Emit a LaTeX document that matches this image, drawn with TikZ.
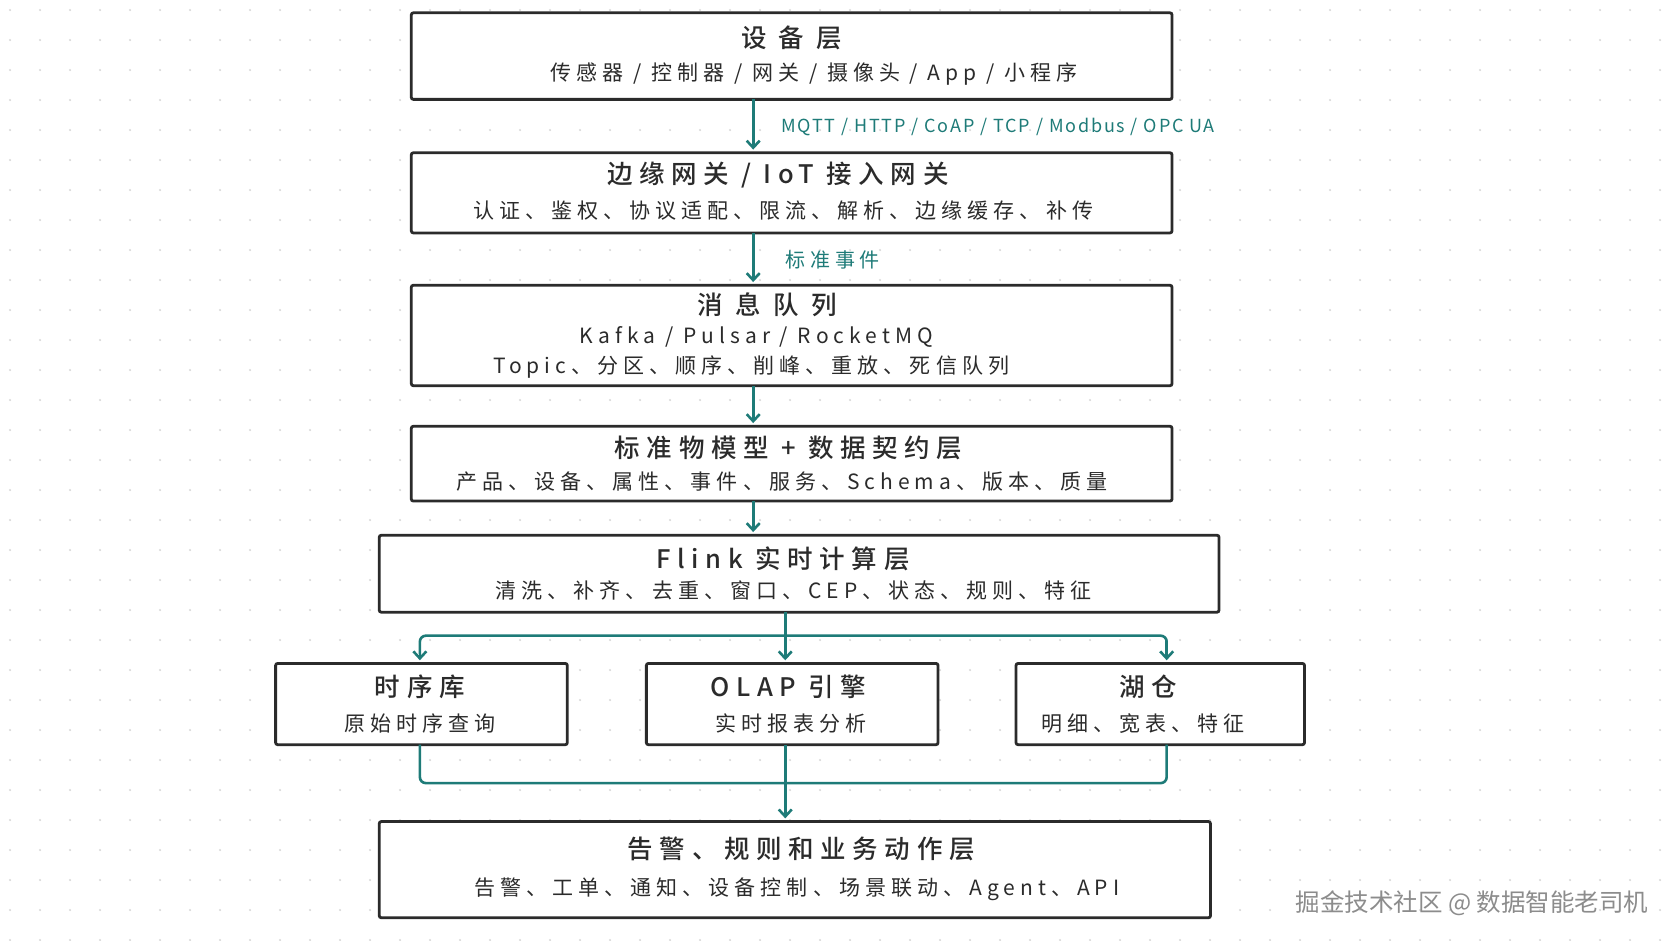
\documentclass[tikz,border=0pt]{standalone}
\usepackage{fontspec}
\setmainfont{Noto Sans CJK SC}
\newfontfamily\ttlfont[LetterSpace=26]{Noto Sans CJK SC Medium}
\newfontfamily\subfont[LetterSpace=24]{Noto Sans CJK SC}
\newfontfamily\lblfont[LetterSpace=10]{Noto Sans CJK SC}
\usetikzlibrary{arrows.meta}
\definecolor{teal1}{HTML}{1E7B78}
\definecolor{bd}{HTML}{2B2B2B}
\begin{document}
\begin{tikzpicture}[x=1.0684pt,y=-1.0684pt,
  box/.style={draw=bd,line width=2.8pt,rounded corners=2pt,fill=white},
  ttl/.style={font=\fontsize{25.5}{28}\ttlfont,text=bd},
  sub/.style={font=\fontsize{21}{22}\subfont,text=bd},
  lbl/.style={font=\fontsize{18}{20}\lblfont,text=teal1,anchor=west},
  arr/.style={draw=teal1,line width=2.6pt,-{Straight Barb[length=7pt,width=13pt]}},
  ln/.style={draw=teal1,line width=2.6pt,rounded corners=6pt}]
\useasboundingbox (0,0) rectangle (1565,880.7);
\fill[white] (0,0) rectangle (1565,880.7);
\foreach \i in {0,...,55}{\foreach \j in {0,...,31}{\fill[black!15] (9.4+\i*28.08,9.4+\j*28.08) circle (1.1);}}
% boxes
\draw[box] (385,12) rectangle (1097,93);
\node[ttl] (t1) at (741,35) {设 备 层};
\node[sub] (s1) at (762,69) {传感器 / 控制器 / 网关 / 摄像头 / App / 小程序};
\coordinate (b1) at (705,93);
\draw[box] (385,143) rectangle (1097,218);
\node[ttl] (t2) at (728,164) {边缘网关 / IoT 接入网关};
\node[sub] (s2) at (733,197) {认证、鉴权、协议适配、限流、解析、边缘缓存、补传};
\coordinate (a2) at (705,140); \coordinate (b2) at (705,218);
\draw[box] (385,267) rectangle (1097,361);
\node[ttl] (t3) at (718,285) {消 息 队 列};
\node[sub] (s3) at (708,315) {Kafka / Pulsar / RocketMQ};
\node[sub] (u3) at (703,344) {Topic、分区、顺序、削峰、重放、死信队列};
\coordinate (a3) at (705,264); \coordinate (b3) at (705,361);
\draw[box] (385,399) rectangle (1097,469);
\node[ttl] (t4) at (738,419) {标准物模型 + 数据契约层};
\node[sub] (s4) at (732,451) {产品、设备、属性、事件、服务、Schema、版本、质量};
\coordinate (a4) at (705,396); \coordinate (b4) at (705,469);
\draw[box] (355,501) rectangle (1141,573);
\node[ttl] (t5) at (733,523) {Flink 实时计算层};
\node[sub] (s5) at (743,553) {清洗、补齐、去重、窗口、CEP、状态、规则、特征};
\coordinate (a5) at (705,498); \coordinate (b5) at (735,573);
\draw[box] (258,621) rectangle (531,697);
\node[ttl] (t6) at (393,643) {时序库};
\node[sub] (s6) at (393,677) {原始时序查询};
\draw[box] (605,621) rectangle (878,697);
\node[ttl] (t7) at (738,643) {OLAP 引擎};
\node[sub] (s7) at (740,677) {实时报表分析};
\draw[box] (951,621) rectangle (1221,697);
\node[ttl] (t8) at (1075,643) {湖仓};
\node[sub] (s8) at (1070,677) {明细、宽表、特征};
\draw[box] (355,769) rectangle (1133,859);
\node[ttl] (t9) at (750,795) {告警、规则和业务动作层};
\node[sub] (s9) at (746,832) {告警、工单、通知、设备控制、场景联动、Agent、API};
% connectors
\draw[arr] (b1) -- (a2);
\node[lbl] (l1) at (728,119) {MQTT / HTTP / CoAP / TCP / Modbus / OPC UA};
\draw[arr] (b2) -- (a3);
\node[lbl,font=\fontsize{20}{22}\subfont] (l2) at (732,243) {标准事件};
\draw[arr] (b3) -- (a4);
\draw[arr] (b4) -- (a5);
\coordinate (j) at (735,595);
\draw[ln] (b5) -- (j);
\draw[ln] (393,612) -- (393,595) -- (1092,595) -- (1092,612);
\draw[arr] (393,600) -- (393,618);
\draw[arr] (735,590) -- (735,618);
\draw[arr] (1092,600) -- (1092,618);
\draw[ln] (393,697) -- (393,733) -- (1092,733) -- (1092,697);
\draw[arr] (735,697) -- (735,766);
\node[font=\fontsize{24.5}{26}\selectfont,text=black!45,anchor=east] (wm) at (1546,845) {掘金技术社区 @ 数据智能老司机};
\end{tikzpicture}
\end{document}
